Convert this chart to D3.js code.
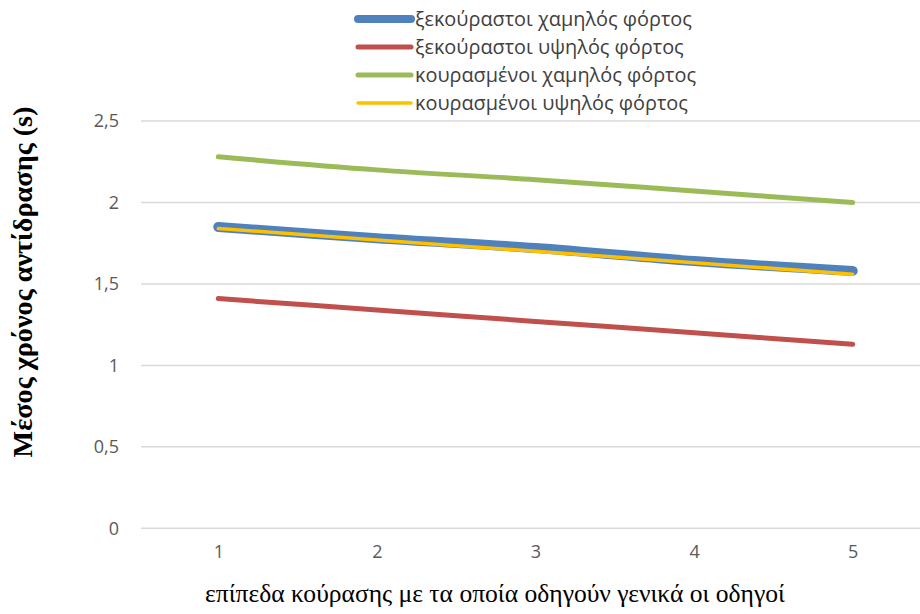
<!DOCTYPE html>
<html>
<head>
<meta charset="utf-8">
<script src="https://cdn.jsdelivr.net/npm/d3@7"></script>
<style>
  html, body { margin: 0; padding: 0; background: #fff; }
  svg { display: block; }
</style>
</head>
<body>
<svg id="chart" width="920" height="614"></svg>
<script>
// ---- data ----
const categories = ["1", "2", "3", "4", "5"];
const seriesNames = [
  "ξεκούραστοι χαμηλός φόρτος",
  "ξεκούραστοι υψηλός φόρτος",
  "κουρασμένοι χαμηλός φόρτος",
  "κουρασμένοι υψηλός φόρτος"
];
const restedLow  = [1.85, 1.78, 1.72, 1.64, 1.58];
const restedHigh = [1.41, 1.34, 1.27, 1.20, 1.13];
const tiredLow   = [2.28, 2.20, 2.14, 2.07, 2.00];
const tiredHigh  = [1.84, 1.77, 1.70, 1.63, 1.56];
const yTicks = [0, 0.5, 1, 1.5, 2, 2.5];
const yTitle = "Μέσος χρόνος αντίδρασης (s)";
const xTitle = "επίπεδα κούρασης με τα οποία οδηγούν γενικά οι οδηγοί";

const seriesValues = [restedLow, restedHigh, tiredLow, tiredHigh];
const colors = ["#4F81BD", "#C0504D", "#9BBB59", "#FFC000"];
const widths = [10, 5, 5, 3.5];
const legendWidths = [8, 5, 5, 3.5];

const svg = d3.select("#chart");

const x = d3.scalePoint().domain(categories).range([139, 932]).padding(0.5);
const y = d3.scaleLinear().domain([0, 2.5]).range([528.3, 121]);

function fit(sel, target) {
  const size = parseFloat(sel.style("font-size"));
  const w = sel.node().getComputedTextLength();
  sel.style("font-size", (size * target / w).toFixed(2) + "px");
}

// gridlines
svg.append("g").selectAll("line").data(yTicks).join("line")
  .attr("x1", 141).attr("x2", 920)
  .attr("y1", d => y(d)).attr("y2", d => y(d))
  .attr("stroke", "#D9D9D9").attr("stroke-width", 1.5);

// y axis labels
const yAxis = d3.axisLeft(y).tickValues(yTicks).tickSize(0).tickPadding(0)
  .tickFormat(d => String(d).replace(".", ","));
const gy = svg.append("g").attr("transform", "translate(119,0)").call(yAxis);
gy.select(".domain").remove();
gy.selectAll("text").attr("fill", "#595959")
  .style("font-family", "'Open Sans', sans-serif").style("font-size", "18px");

// x axis labels
const xAxis = d3.axisBottom(x).tickSize(0).tickPadding(0);
const gx = svg.append("g").attr("transform", "translate(0,545)").call(xAxis);
gx.select(".domain").remove();
gx.selectAll("text").attr("fill", "#595959").attr("dy", "0.71em")
  .style("font-family", "'Open Sans', sans-serif").style("font-size", "18px");

// lines
const line = d3.line()
  .x((d, i) => x(categories[i]))
  .y(d => y(d))
  .curve(d3.curveCatmullRom.alpha(0.5));

svg.append("g").selectAll("path").data(seriesValues).join("path")
  .attr("d", d => line(d))
  .attr("fill", "none")
  .attr("stroke", (d, i) => colors[i])
  .attr("stroke-width", (d, i) => widths[i])
  .attr("stroke-linecap", "round")
  .attr("stroke-linejoin", "round");

// legend
const legendY = [19, 47, 75, 103];
const lg = svg.append("g").selectAll("g").data(seriesNames).join("g")
  .attr("transform", (d, i) => `translate(0,${legendY[i]})`);
lg.append("line")
  .attr("x1", 358).attr("x2", 411).attr("y1", 0).attr("y2", 0)
  .attr("stroke", (d, i) => colors[i])
  .attr("stroke-width", (d, i) => legendWidths[i])
  .attr("stroke-linecap", "round");
const lt = lg.append("text")
  .attr("x", 415).attr("y", 0).attr("dy", "0.35em")
  .attr("fill", "#404040")
  .style("font-family", "'Open Sans', sans-serif")
  .style("font-size", "17px")
  .text(d => d);
const w0 = lt.nodes()[0].getComputedTextLength();
lt.style("font-size", (17 * 277 / w0).toFixed(2) + "px");

// axis titles
const yt = svg.append("text")
  .attr("transform", "translate(32,282) rotate(-90)")
  .attr("text-anchor", "middle")
  .style("font-family", "'Liberation Serif', 'Times New Roman', serif")
  .style("font-size", "22px").style("font-weight", "bold")
  .attr("fill", "#000")
  .text(yTitle);
fit(yt, 351);

const xt = svg.append("text")
  .attr("x", 495).attr("y", 602)
  .attr("text-anchor", "middle")
  .style("font-family", "'Liberation Serif', 'Times New Roman', serif")
  .style("font-size", "22px")
  .attr("fill", "#000")
  .text(xTitle);
fit(xt, 580);
</script>
</body>
</html>
